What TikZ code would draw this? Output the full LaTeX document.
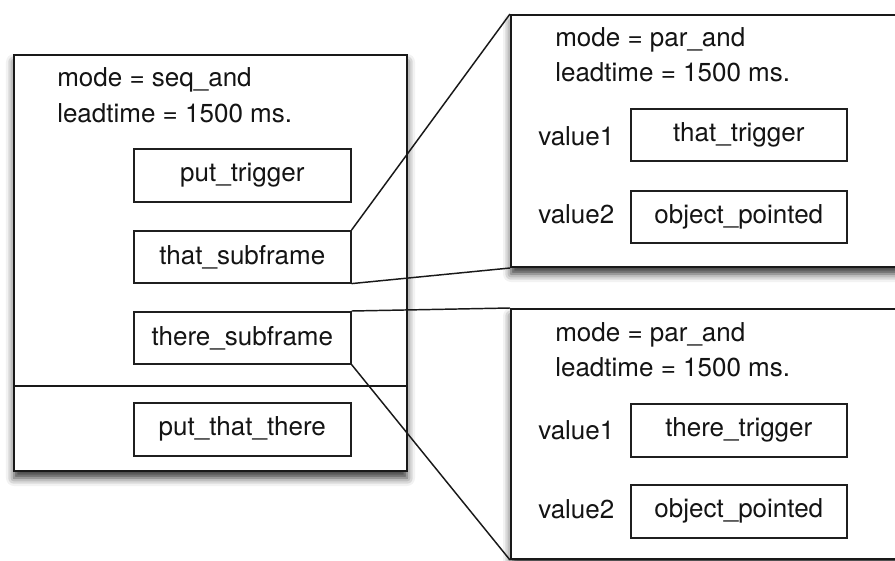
\documentclass[tikz,border=0pt]{standalone}
\usepackage{fontspec}
\setmainfont{TeX Gyre Heros}
\usetikzlibrary{shadows.blur}
\newdimen\pxu \pxu=0.75pt
\begin{document}
\begin{tikzpicture}[x=0.75pt, y=-0.75pt,
  every node/.style={font=\fontsize{19.5}{24}\selectfont, text=black!92, inner sep=0pt},
  frame/.style={draw=black!90, line width=1.5pt, fill=white, anchor=north west,
    blur shadow={shadow xshift=0pt, shadow yshift=-7\pxu, shadow blur radius=8\pxu, shadow opacity=80}},
  slot/.style={draw=black!88, line width=1.2pt, fill=white, anchor=north west,
    minimum width=217\pxu, minimum height=53\pxu},
  label/.style={anchor=base west},
  link/.style={draw=black!90, line width=1.1pt}]
\useasboundingbox (0,0) rectangle (895,560);
\clip (0,0) rectangle (895,560);

% sequential frame
\node[frame, minimum width=393\pxu, minimum height=416\pxu] (seq) at (13,54) {};
\coordinate (divl) at (13,386);
\coordinate (divr) at (406,386);
\draw[link, line width=1.3pt] (divl) -- (divr);
\node[label] (seqmode) at (57,87) {mode = seq\_and};
\node[label] (seqlead) at (57,122) {leadtime = 1500 ms.};
\node[slot] (puttrig) at (133,148) {put\_trigger};
\node[slot, minimum height=52\pxu] (thatsub) at (133,230) {that\_subframe};
\node[slot, minimum height=52\pxu] (theresub) at (133,311) {there\_subframe};
\node[slot] (ptt) at (133,402) {put\_that\_there};

% parallel frame for "that"
\node[frame, minimum width=420\pxu, minimum height=252\pxu] (thatframe) at (510,14) {};
\node[label] (thatmode) at (555,47) {mode = par\_and};
\node[label] (thatlead) at (555,82) {leadtime = 1500 ms.};
\node[label] (thatv1) at (538,145) {value1};
\node[label] (thatv2) at (538,223) {value2};
\node[slot, minimum width=216\pxu, minimum height=52\pxu] (thattrig) at (630,108) {that\_trigger};
\node[slot, minimum width=216\pxu, minimum height=52\pxu] (thatobj) at (630,190) {object\_pointed};

% parallel frame for "there"
\node[frame, minimum width=420\pxu, minimum height=250\pxu] (thereframe) at (510,308) {};
\node[label] (theremode) at (555,341) {mode = par\_and};
\node[label] (therelead) at (555,376) {leadtime = 1500 ms.};
\node[label] (therev1) at (538,439) {value1};
\node[label] (therev2) at (538,518) {value2};
\node[slot, minimum width=216\pxu] (theretrig) at (630,403) {there\_trigger};
\node[slot, minimum width=216\pxu] (thereobj) at (630,484) {object\_pointed};

% expansion lines from the subframes to their frames
\draw[link] (thatsub.north east) -- (thatframe.north west);
\draw[link] (thatsub.south east) -- (thatframe.south west);
\draw[link] (theresub.north east) -- (thereframe.north west);
\draw[link] (theresub.south east) -- (thereframe.south west);
\end{tikzpicture}
\end{document}
